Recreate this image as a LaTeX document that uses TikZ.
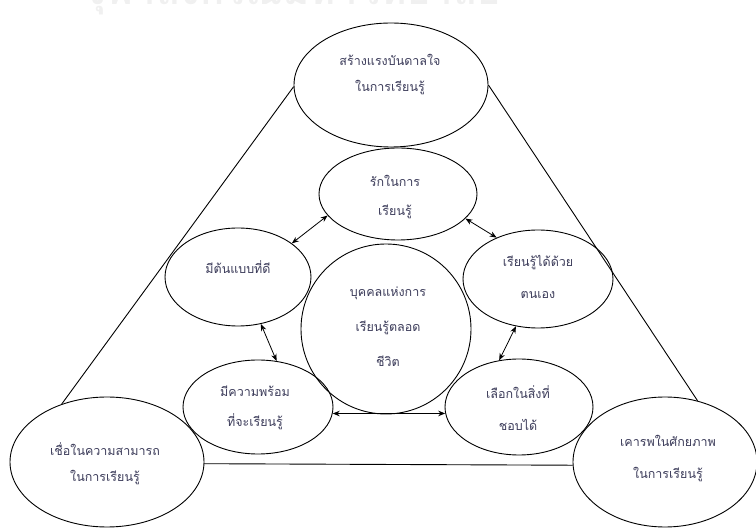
\documentclass[tikz,border=0pt]{standalone}
\usepackage{fontspec}
\newfontfamily\thaifont[Script=Thai]{Loma}
\usetikzlibrary{shapes.geometric,arrows.meta}
\definecolor{txtcol}{RGB}{60,60,90}
\begin{document}
\begin{tikzpicture}[x=1pt,y=1pt,
  ell/.style={draw, ellipse, line width=0.9pt, inner sep=0pt},
  txt/.style={font=\thaifont\fontsize{12.5}{12.5}\selectfont, text=txtcol, anchor=base, inner sep=0pt},
  dbl/.style={{Stealth[length=7pt,width=5.5pt]}-{Stealth[length=7pt,width=5.5pt]}, line width=0.8pt},
  tri/.style={line width=0.9pt}]
\useasboundingbox (0,0) rectangle (756,528);
\begin{scope}
\clip (0,0) rectangle (756,528);
\node[font=\thaifont\bfseries\fontsize{40}{40}\selectfont, text=gray!12, anchor=base] (wm) at (292,523) {จุฬาลงกรณ์มหาวิทยาลัย};
\end{scope}
% ellipses
\node[ell, minimum width=194pt, minimum height=124pt] (top) at (391,443) {};
\node[ell, minimum width=158pt, minimum height=92pt] (rak) at (398,334) {};
\node[ell, minimum width=146pt, minimum height=98pt] (ton) at (238,251) {};
\node[ell, minimum width=150pt, minimum height=98pt] (eng) at (538,249) {};
\node[ell, minimum width=170pt, minimum height=170pt] (mid) at (386,199) {};
\node[ell, minimum width=150pt, minimum height=94pt] (prom) at (258,121) {};
\node[ell, minimum width=148pt, minimum height=96pt] (lek) at (519,121) {};
\node[ell, minimum width=194pt, minimum height=130pt] (bl) at (107,66) {};
\node[ell, minimum width=184pt, minimum height=130pt] (br) at (665,66) {};
% texts
\node[txt] (t1a) at (390,462) {สร้างแรงบันดาลใจ};
\node[txt] (t1b) at (390,436) {ในการเรียนรู้};
\node[txt] (t2a) at (395,341) {รักในการ};
\node[txt] (t2b) at (395,312) {เรียนรู้};
\node[txt] (t3) at (238,254) {มีต้นแบบที่ดี};
\node[txt] (t4a) at (538,261) {เรียนรู้ได้ด้วย};
\node[txt] (t4b) at (538,229) {ตนเอง};
\node[txt] (t5a) at (388,231) {บุคคลแห่งการ};
\node[txt] (t5b) at (388,196) {เรียนรู้ตลอด};
\node[txt] (t5c) at (388,161) {ชีวิต};
\node[txt] (t6a) at (255,131) {มีความพร้อม};
\node[txt] (t6b) at (255,101) {ที่จะเรียนรู้};
\node[txt] (t7a) at (518,129) {เลือกในสิ่งที่};
\node[txt] (t7b) at (518,97) {ชอบได้};
\node[txt] (t8a) at (105,72) {เชื่อในความสามารถ};
\node[txt] (t8b) at (105,46) {ในการเรียนรู้};
\node[txt] (t9a) at (668,81) {เคารพในศักยภาพ};
\node[txt] (t9b) at (668,49) {ในการเรียนรู้};
% triangle
\draw[tri] (top.181) -- (bl.128);
\draw[tri] (top.0) -- (br.62);
\draw[tri] (bl.-1) -- (br.182);
% arrows
\draw[dbl] (ton.32) -- (rak.197);
\draw[dbl] (rak.-20) -- (eng.135);
\draw[dbl] (ton.-64) -- (prom.68);
\draw[dbl] (eng.-115) -- (lek.113);
\draw[dbl] (prom.-5) -- (lek.185);
\end{tikzpicture}
\end{document}
